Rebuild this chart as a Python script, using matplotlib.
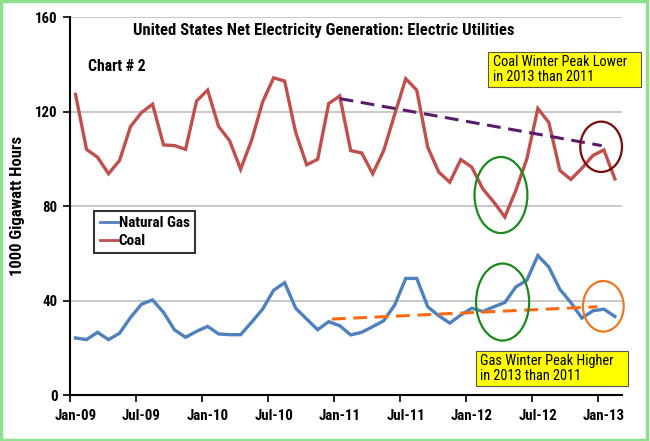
import matplotlib
matplotlib.use("Agg")
import matplotlib.pyplot as plt
from matplotlib.patches import Ellipse, Rectangle
from matplotlib import font_manager

# ---------------- data ----------------
months = ["Jan-09", "Feb-09", "Mar-09", "Apr-09", "May-09", "Jun-09", "Jul-09", "Aug-09", "Sep-09", "Oct-09", "Nov-09", "Dec-09",
          "Jan-10", "Feb-10", "Mar-10", "Apr-10", "May-10", "Jun-10", "Jul-10", "Aug-10", "Sep-10", "Oct-10", "Nov-10", "Dec-10",
          "Jan-11", "Feb-11", "Mar-11", "Apr-11", "May-11", "Jun-11", "Jul-11", "Aug-11", "Sep-11", "Oct-11", "Nov-11", "Dec-11",
          "Jan-12", "Feb-12", "Mar-12", "Apr-12", "May-12", "Jun-12", "Jul-12", "Aug-12", "Sep-12", "Oct-12", "Nov-12", "Dec-12",
          "Jan-13", "Feb-13"]

coal = [127.4, 104.1, 100.8, 93.8, 99.4, 113.8, 119.7, 123.2, 106.0, 105.7, 104.1, 124.6,
        129.2, 113.8, 107.8, 95.7, 108.0, 124.2, 134.4, 133.0, 111.3, 97.6, 99.9, 123.5,
        126.7, 103.6, 102.6, 93.8, 103.6, 119.0, 134.0, 129.2, 105.0, 94.5, 90.2, 99.8,
        96.6, 87.4, 81.8, 75.5, 86.7, 100.1, 121.4, 115.5, 95.2, 91.4, 96.1, 101.5,
        103.9, 91.6]

gas = [24.3, 23.6, 26.7, 23.6, 26.3, 33.0, 38.6, 40.4, 35.1, 27.7, 24.6, 27.1,
       29.2, 26.0, 25.7, 25.7, 31.0, 36.5, 44.5, 47.7, 36.9, 32.3, 27.8, 31.2,
       29.5, 25.6, 26.7, 29.1, 31.6, 38.3, 49.5, 49.5, 37.5, 33.7, 30.6, 34.0,
       36.9, 35.5, 37.5, 39.3, 45.9, 48.7, 59.2, 54.3, 44.9, 39.3, 32.7, 35.8,
       36.5, 33.4]

tick_labels = ["Jan-09", "Jul-09", "Jan-10", "Jul-10", "Jan-11", "Jul-11", "Jan-12", "Jul-12", "Jan-13"]
y_ticks = [0, 40, 80, 120, 160]

# trend lines (x in month index, y in values)
coal_trend_x = [24.0, 47.8]
coal_trend_y = [125.6, 105.7]
gas_trend_x = [23.3, 47.4]
gas_trend_y = [32.3, 37.5]

# ---------------- fonts ----------------
names = {f.name for f in font_manager.fontManager.ttflist}
FONT = "Liberation Sans"
for cand in ["Liberation Sans Narrow", "Nimbus Sans Narrow", "Arial Narrow", "Roboto Condensed",
             "IBM Plex Sans Condensed", "Fira Sans Condensed", "Encode Sans Condensed"]:
    if cand in names:
        FONT = cand
        break
plt.rcParams["font.family"] = [FONT, "DejaVu Sans"]

COAL_C = "#C0504D"
GAS_C = "#4F81BD"

fig = plt.figure(figsize=(6.5, 4.41), dpi=100)
fig.patch.set_facecolor("white")
ax = fig.add_axes([70 / 650, 1 - 395.4 / 441, 551.5 / 650, (395.4 - 17.3) / 441])

x = list(range(len(months)))
ax.plot(x, gas, color=GAS_C, lw=2.4, label="Natural Gas", solid_joinstyle="miter", zorder=3)
ax.plot(x, coal, color=COAL_C, lw=2.4, label="Coal", solid_joinstyle="miter", zorder=3)

ax.plot(coal_trend_x, coal_trend_y, color="#5B1B6B", lw=2.2, dashes=(4.5, 2.5), zorder=4)
ax.plot(gas_trend_x, gas_trend_y, color="#FF6A10", lw=2.2, dashes=(4.5, 2.5), zorder=4)

# ellipses highlighting
for c, w, h, ec in [((38.65, 84.8), 4.8, 32.2, "#1A8A1A"),
                    ((38.8, 39.5), 4.82, 32.6, "#1A8A1A"),
                    ((47.75, 105.2), 3.79, 21.3, "#7A0A0A"),
                    ((47.95, 37.7), 3.7, 21.4, "#EE7722")]:
    ax.add_patch(Ellipse(c, w, h, fill=False, ec=ec, lw=1.6, zorder=5, clip_on=False))

ax.set_xlim(-0.5, 49.6)
ax.set_ylim(0, 160)

# x ticks: labels at data points, tick marks between months
major = [months.index(t) for t in tick_labels]
ax.set_xticks(major)
ax.set_xticklabels(tick_labels)
ax.set_xticks([m - 0.5 for m in major], minor=True)
ax.tick_params(axis="x", which="major", length=0, pad=10, labelsize=10.7)
ax.tick_params(axis="x", which="minor", length=5, width=1.2, direction="out")
for lab in ax.get_xticklabels():
    lab.set_fontweight("bold")

ax.set_yticks(y_ticks)
ax.set_yticklabels([str(v) for v in y_ticks])
ax.tick_params(axis="y", length=5, width=1.2, direction="out", pad=4, labelsize=10.7)
for lab in ax.get_yticklabels():
    lab.set_fontweight("bold")

ax.grid(axis="y", color="#C0C0C0", lw=1.2)
ax.set_axisbelow(True)
for s in ["top", "right"]:
    ax.spines[s].set_visible(False)
for s in ["left", "bottom"]:
    ax.spines[s].set_linewidth(1.5)
    ax.spines[s].set_color("black")

ax.set_ylabel("1000 Gigawatt Hours", fontsize=12, fontweight="bold")
ax.yaxis.set_label_coords(-0.082, 0.5)

leg = ax.legend(loc="upper left", bbox_to_anchor=(94.4 / 650, 1 - 210.7 / 441),
                bbox_transform=fig.transFigure, frameon=True, fancybox=False,
                fontsize=11, handlelength=1.2, handletextpad=0.05, labelspacing=0.25,
                borderpad=0.35, borderaxespad=0)
leg.get_frame().set_edgecolor("black")
leg.get_frame().set_linewidth(1.5)
for t in leg.get_texts():
    t.set_fontweight("bold")
for h in leg.get_lines():
    h.set_linewidth(2.0)

# title and labels
fig.text(324 / 650, 1 - 30.7 / 441, "United States Net Electricity Generation: Electric Utilities",
         ha="center", va="center", fontsize=12, fontweight="bold")
fig.text(88 / 650, 1 - 66.7 / 441, "Chart # 2", ha="left", va="center", fontsize=11.3, fontweight="bold")

# yellow boxes
def ybox(x0, y0, x1, y1, lines, ys, tx):
    fig.patches.append(Rectangle((x0 / 650, 1 - y1 / 441), (x1 - x0) / 650, (y1 - y0) / 441,
                                 transform=fig.transFigure, facecolor="#FFFF00",
                                 edgecolor="#555555", lw=0.8, zorder=10))
    for s, yy in zip(lines, ys):
        fig.text(tx / 650, 1 - yy / 441, s, ha="left", va="center", fontsize=10.4, zorder=11)

ybox(488.3, 51.7, 640.7, 86.7, ["Coal Winter Peak Lower", "in 2013 than 2011"], [62.5, 77.0], 493)
ybox(475.7, 350.7, 627.7, 385.7, ["Gas Winter Peak Higher", "in 2013 than 2011"], [361.0, 375.7], 480.5)

# green frame around the picture
fig.patches.append(Rectangle((0.002, 0.003), 0.994, 0.994, transform=fig.transFigure,
                             fill=False, edgecolor="#8EE08E", lw=2.5, zorder=20))

fig.savefig("out.png", dpi=100)
